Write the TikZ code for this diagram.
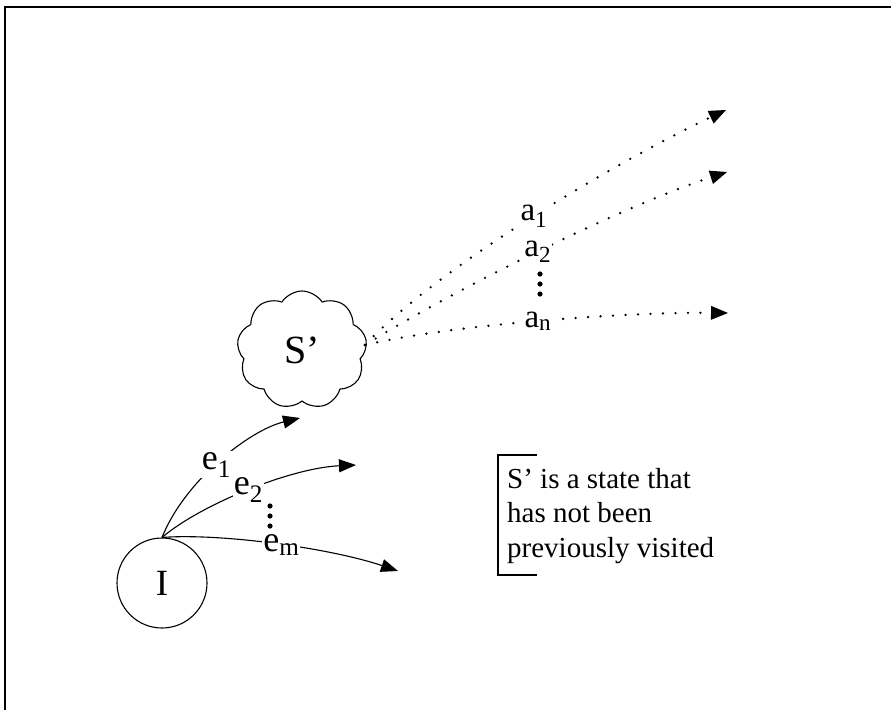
\documentclass[tikz,border=0pt]{standalone}
\usepackage{fontspec}
\setmainfont{Liberation Serif}
\usetikzlibrary{arrows.meta,shapes.symbols}
\newcommand{\sbs}[1]{\textsubscript{#1}}
\begin{document}
\begin{tikzpicture}[x=1pt,y=-1pt,
  every node/.style={font=\fontsize{33}{36}\selectfont},
  lbl/.style={fill=white,inner sep=1pt},
  elbl/.style={lbl,font=\fontsize{36}{40}\selectfont},
  solidarrow/.style={line width=1.1pt,-{Triangle[length=17pt,width=13pt]}},
  dotarrow/.style={line width=2.6pt,line cap=round,dash pattern=on 0pt off 12.5pt,-{Triangle[length=17pt,width=14pt,line width=0pt]}},
  bigdot/.style={fill=black}]
\useasboundingbox (0,0) rectangle (891,710);
% frame
\draw[line width=2pt] (891,7) -- (5,7) -- (5,710);
% nodes
\node[draw,circle,line width=1.1pt,minimum size=90pt,inner sep=0pt,font=\fontsize{37}{40}\selectfont] (I) at (162,583) {I};
\node[draw,cloud,cloud puffs=9,cloud puff arc=115,aspect=1.1,line width=1.1pt,minimum width=130pt,minimum height=118pt,inner sep=0pt,font=\fontsize{40}{44}\selectfont] (S) at (302,350) {S’};
% free ends
\coordinate (e1end) at (300,418);
\coordinate (e2end) at (356,465);
\coordinate (emend) at (398,571);
\coordinate (a1end) at (726,110);
\coordinate (a2end) at (727,172);
\coordinate (anend) at (728,313);
\coordinate (sout) at (365,345);
% e edges
\draw[solidarrow] (I.north) .. controls (185,480) and (250,430) .. node[elbl,pos=0.47] {e\sbs{1}} (e1end);
\draw[solidarrow] (I.north) .. controls (200,505) and (290,468) .. node[elbl,pos=0.5] {e\sbs{2}} (e2end);
\draw[solidarrow] (I.north) .. controls (220,533) and (330,548) .. node[elbl,pos=0.52] {e\sbs{m}} (emend);
% a edges
\draw[dotarrow] (sout) .. controls (440,265) and (620,160) .. node[lbl,pos=0.5] {a\sbs{1}} (a1end);
\draw[dotarrow] (sout) .. controls (450,292) and (620,207) .. node[lbl,pos=0.5] {a\sbs{2}} (a2end);
\draw[dotarrow] (sout) .. controls (450,325) and (620,312) .. node[lbl,pos=0.5] {a\sbs{n}} (anend);
% vertical ellipsis dots
\foreach \yy in {274,284,294} \fill[bigdot] (540,\yy) circle (2.6pt);
\foreach \yy in {506,516,526} \fill[bigdot] (270,\yy) circle (2.6pt);
% note
\draw[line width=1.2pt] (537,455) -| (498,575) -- (537,575);
\node[anchor=north west,align=left,inner sep=0pt,font=\fontsize{29}{34.5}\selectfont] (note) at (507,468) {S’ is a state that\\has not been\\previously visited};
\end{tikzpicture}
\end{document}
